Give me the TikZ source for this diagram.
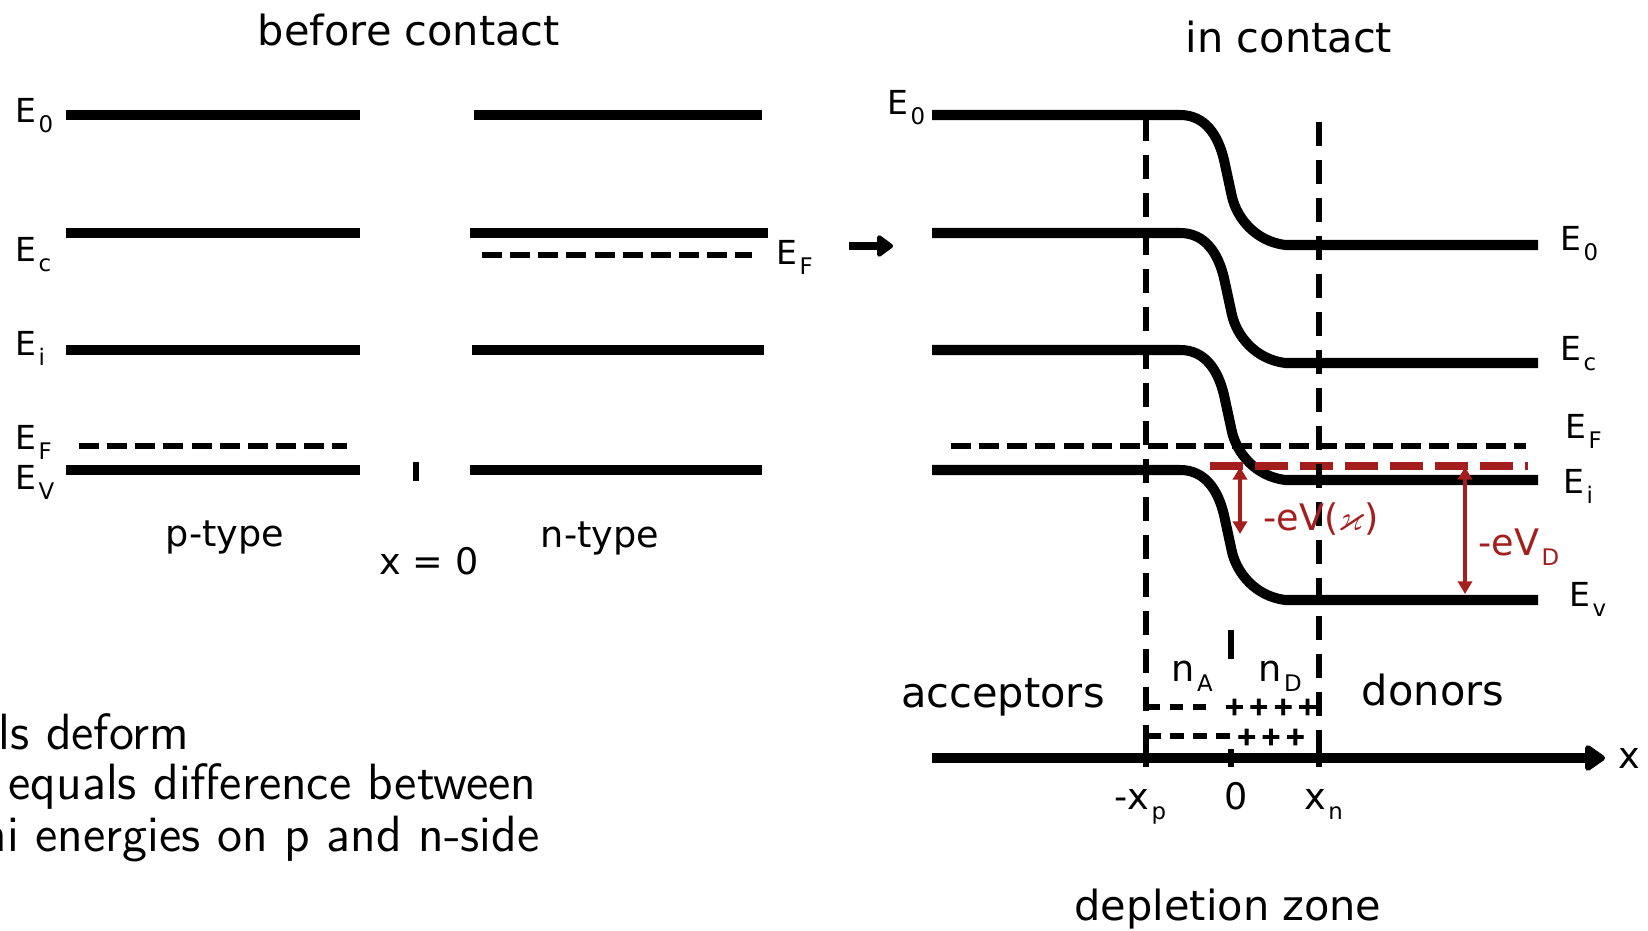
\documentclass[tikz,border=0pt]{standalone}
\usepackage{amssymb}
\usepackage{fontspec}
\setmainfont{DejaVu Sans}
\newfontfamily\plusfont[FakeBold=3.5]{DejaVu Sans Bold}
\usetikzlibrary{arrows.meta}
\definecolor{dred}{RGB}{165,30,30}
\newcommand\Lb[2]{#1\kern0.6pt\raisebox{-2.8pt}{\fontsize{6.5}{6.5}\selectfont #2}}
\tikzset{
  band/.style={line width=2.85pt},
  efline/.style={line width=1.7pt, dash pattern=on 5.7pt off 2.3pt},
  zoneline/.style={line width=1.6pt, dash pattern=on 6.8pt off 4pt},
  redline/.style={draw=dred, line width=2pt, dash pattern=on 9.4pt off 3.4pt},
  redarrow/.style={draw=dred, fill=dred, line width=1.14pt, {Triangle[length=3.6pt,width=4pt]}-{Triangle[length=3.6pt,width=4pt]}},
  lab/.style={inner sep=0pt, anchor=base west, font=\fontsize{9.4}{11}\selectfont},
  txt/.style={inner sep=0pt, anchor=base, font=\fontsize{10.4}{12}\selectfont},
  big/.style={inner sep=0pt, anchor=base, font=\fontsize{11.8}{14}\selectfont},
  note/.style={inner sep=0pt, anchor=base east, font=\sffamily\fontsize{14.5}{17}\selectfont},
  tick/.style={line width=1.6pt},
  plusrow/.style={inner sep=0pt, font=\plusfont\fontsize{7.2}{8}\selectfont},
}
\begin{document}
\begin{tikzpicture}[x=0.01cm, y=-0.01cm]
\useasboundingbox (0,0) rectangle (1648,931);
% titles
\node[big] (t1) at (409,46) {before contact};
\node[big] (t2) at (1289,53) {in contact};
% ---------- left panel: before contact ----------
\draw[band] (66,115) -- (360,115);
\draw[band] (474,115) -- (762,115);
\draw[band] (66,233) -- (360,233);
\draw[band] (470,233) -- (768,233);
\draw[efline] (482,255) -- (752,255);
\draw[band] (66,350) -- (360,350);
\draw[band] (472,350) -- (764,350);
\draw[efline] (79,446) -- (347,446);
\draw[band] (66,470) -- (360,470);
\draw[band] (470,470) -- (762,470);
\draw[line width=1.7pt] (416,462) -- (416,481);
\node[lab] (lE0) at (15,123) {\Lb{E}{0}};
\node[lab] (lEc) at (15,262) {\Lb{E}{c}};
\node[lab] (lEi) at (15,356) {\Lb{E}{i}};
\node[lab] (lEF) at (15,450) {\Lb{E}{F}};
\node[lab] (lEV) at (15,490) {\Lb{E}{V}};
\node[lab] (nEF) at (776,265) {\Lb{E}{F}};
\node[txt] (pt) at (225,547) {p-type};
\node[txt] (nt) at (600,548) {n-type};
\node[txt] (x0) at (429,575) {x = 0};
% arrow between panels
\coordinate (arL) at (849,246);
\coordinate (arR) at (893,246);
\draw[line width=2.3pt, -{Triangle[length=5pt,width=7pt,round]}] (arL) -- (arR);
% ---------- right panel: in contact ----------
\foreach \y in {115,233,350,470}{
  \draw[band] (932,\y) -- (1180,\y) .. controls (1205,\y) and (1218,\y+20) .. (1224,\y+45)
     -- (1232,\y+82) .. controls (1237,\y+103) and (1255,\y+126) .. (1285,\y+130) -- (1538,\y+130);
}
\draw[efline] (951,446) -- (1526,446);
\draw[redline] (1210,466) -- (1528,466);
\draw[zoneline] (1146,117) -- (1146,750);
\draw[zoneline] (1319,122) -- (1319,750);
\node[lab] (rE0a) at (887,115) {\Lb{E}{0}};
\node[lab] (rE0) at (1560,251) {\Lb{E}{0}};
\node[lab] (rEc) at (1560,361) {\Lb{E}{c}};
\node[lab] (rEF) at (1565,439) {\Lb{E}{F}};
\node[lab] (rEi) at (1563,494) {\Lb{E}{i}};
\node[lab] (rEv) at (1569,607) {\Lb{E}{v}};
% red arrows
\coordinate (r1t) at (1240,467);
\coordinate (r1b) at (1240,534);
\draw[redarrow] (r1t) -- (r1b);
\coordinate (r2t) at (1465,467);
\coordinate (r2b) at (1465,594);
\draw[redarrow] (r2t) -- (r2b);
\node[lab, text=dred, font=\fontsize{10.4}{12}\selectfont] (eVx) at (1263,531) {-eV($\varkappa$)};
\node[lab, text=dred, font=\fontsize{10.4}{12}\selectfont] (eVD) at (1478,556) {\Lb{-eV}{D}};
% depletion zone
\draw[line width=1.7pt] (1231,630) -- (1231,659);
\node[lab, font=\fontsize{10.4}{12}\selectfont] (nA) at (1171,682) {\Lb{n}{A}};
\node[lab, font=\fontsize{10.4}{12}\selectfont] (nD) at (1258,682) {\Lb{n}{D}};
\draw[line width=1.7pt, dash pattern=on 3.7pt off 2.85pt] (1147,707) -- (1207,707);
\draw[line width=1.7pt, dash pattern=on 3.98pt off 2.56pt] (1147,736) -- (1232,736);
\node[plusrow] (p1) at (1271,707) {+\hspace{0.9pt}+\hspace{0.9pt}+\hspace{0.9pt}+};
\node[plusrow] (p2) at (1271,737) {+\hspace{0.9pt}+\hspace{0.9pt}+};
\node[big] (acc) at (1003,708) {acceptors};
\node[big] (don) at (1433,706) {donors};
% axis
\coordinate (ax0) at (932,758);
\coordinate (ax1) at (1605,758);
\draw[line width=2.85pt, -{Triangle[length=6.3pt,width=8.3pt,round]}] (ax0) -- (ax1);
\draw[tick] (1146,749) -- (1146,767);
\draw[tick] (1231,749) -- (1231,767);
\draw[tick] (1319,749) -- (1319,767);
\node[lab, font=\fontsize{10.4}{12}\selectfont] (xl) at (1618,769) {x};
\node[lab, font=\fontsize{10.4}{12}\selectfont] (mxp) at (1114,810) {\Lb{-x}{p}};
\node[txt] (zero) at (1236,810) {0};
\node[lab, font=\fontsize{10.4}{12}\selectfont] (xn) at (1304,810) {\Lb{x}{n}};
\node[big] (dz) at (1228,921) {depletion zone};
% bottom-left text (cut at the left edge, as in the slide)
\node[note, anchor=base west] (n1) at (-2,750) {ls deform};
\node[note] (n2) at (537,800) {equals difference between};
\node[note] (n3) at (540,852) {mi energies on p and n-side};
\end{tikzpicture}
\end{document}
